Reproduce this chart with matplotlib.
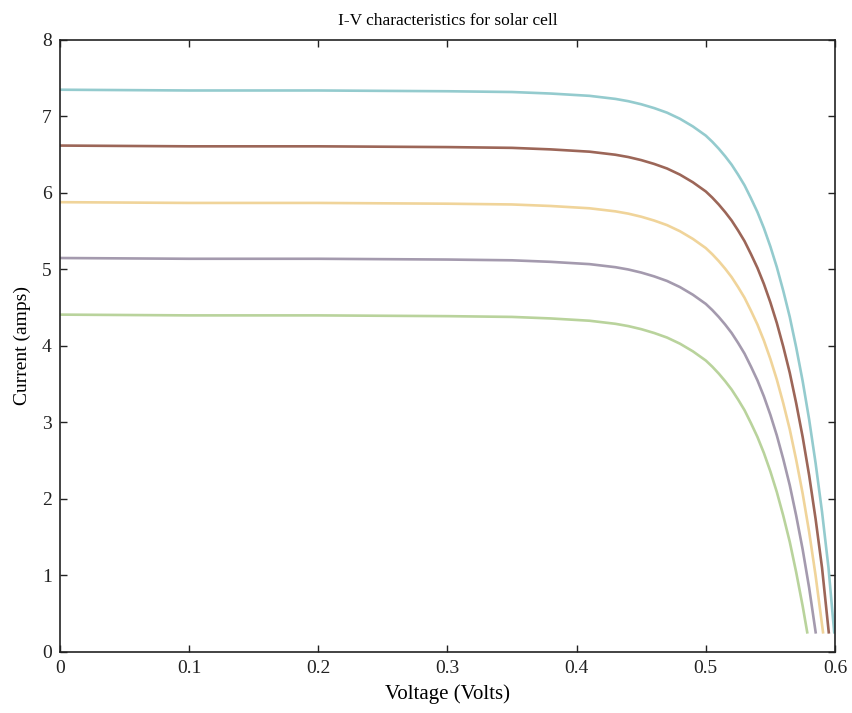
import matplotlib
matplotlib.use("Agg")
import matplotlib.pyplot as plt

plt.rcParams['font.family'] = ['Liberation Serif', 'DejaVu Serif']

# voltage steps (V) at which the curves are sampled
voltage = [0.0, 0.1, 0.2, 0.3, 0.35, 0.38, 0.40, 0.41, 0.42, 0.43, 0.44, 0.45, 0.46,
           0.47, 0.48, 0.49, 0.50, 0.505, 0.51, 0.515, 0.52, 0.525, 0.53, 0.535,
           0.54, 0.545, 0.55, 0.555, 0.56, 0.565, 0.57, 0.575, 0.58, 0.585, 0.59,
           0.595]

# current (A) per irradiance level, highest first
i_1 = [7.35, 7.34, 7.34, 7.33, 7.32, 7.30, 7.28, 7.27, 7.25, 7.23, 7.20, 7.16, 7.11,
       7.05, 6.97, 6.87, 6.75, 6.67, 6.58, 6.48, 6.37, 6.24, 6.10, 5.93,
       5.75, 5.54, 5.30, 5.03, 4.72, 4.38, 3.98, 3.54, 3.04, 2.47, 1.83,
       1.10]
i_2 = [6.62, 6.61, 6.61, 6.60, 6.59, 6.57, 6.55, 6.54, 6.52, 6.50, 6.47, 6.43, 6.38,
       6.32, 6.24, 6.14, 6.02, 5.94, 5.85, 5.75, 5.64, 5.51, 5.37, 5.20,
       5.02, 4.81, 4.57, 4.30, 3.99, 3.65, 3.25, 2.81, 2.31, 1.74, 1.10]
i_3 = [5.88, 5.87, 5.87, 5.86, 5.85, 5.83, 5.81, 5.80, 5.78, 5.76, 5.73, 5.69, 5.64,
       5.58, 5.50, 5.40, 5.28, 5.20, 5.11, 5.01, 4.90, 4.77, 4.63, 4.46,
       4.28, 4.07, 3.83, 3.56, 3.25, 2.91, 2.51, 2.07, 1.57, 1.00]
i_4 = [5.15, 5.14, 5.14, 5.13, 5.12, 5.10, 5.08, 5.07, 5.05, 5.03, 5.00, 4.96, 4.91,
       4.85, 4.77, 4.67, 4.55, 4.47, 4.38, 4.28, 4.17, 4.04, 3.90, 3.73,
       3.55, 3.34, 3.10, 2.83, 2.52, 2.18, 1.78, 1.34, 0.84]
i_5 = [4.41, 4.40, 4.40, 4.39, 4.38, 4.36, 4.34, 4.33, 4.31, 4.29, 4.26, 4.22, 4.17,
       4.11, 4.03, 3.93, 3.81, 3.73, 3.64, 3.54, 3.43, 3.30, 3.16, 2.99,
       2.81, 2.60, 2.36, 2.09, 1.78, 1.44, 1.04, 0.60]

# last sample of each sweep
v_end = [0.5995, 0.5953, 0.5909, 0.5852, 0.5787]
i_end = 0.24

colors = ["#94cbce", "#9c6658", "#f0d49a", "#a49aae", "#b9d39c"]

fig = plt.figure(figsize=(8.52, 7.13), dpi=100)
ax = fig.add_axes([0.0704, 0.0856, 0.9096, 0.8583])

for cur, ve, c in zip([i_1, i_2, i_3, i_4, i_5], v_end, colors):
    v = voltage[:len(cur)] + [ve]
    ax.plot(v, cur + [i_end], color=c, lw=1.9, solid_capstyle='butt')

ax.set_xlim(0, 0.6)
ax.set_ylim(0, 8)
ax.set_xticks([0, 0.1, 0.2, 0.3, 0.4, 0.5, 0.6])
ax.set_xticklabels(["0", "0.1", "0.2", "0.3", "0.4", "0.5", "0.6"])
ax.set_yticks(range(9))

ax.tick_params(direction='in', top=True, right=True, length=5, width=1,
               labelsize=14, pad=6, colors='#222222')
for s in ax.spines.values():
    s.set_linewidth(1.2)
    s.set_color('#222222')

ax.set_xlabel("Voltage (Volts)", fontsize=15, labelpad=5)
ax.set_ylabel("Current (amps)", fontsize=14, labelpad=8)
ax.set_title("I-V characteristics for solar cell", fontsize=12.5, pad=11)

fig.savefig("out.png", dpi=100)
